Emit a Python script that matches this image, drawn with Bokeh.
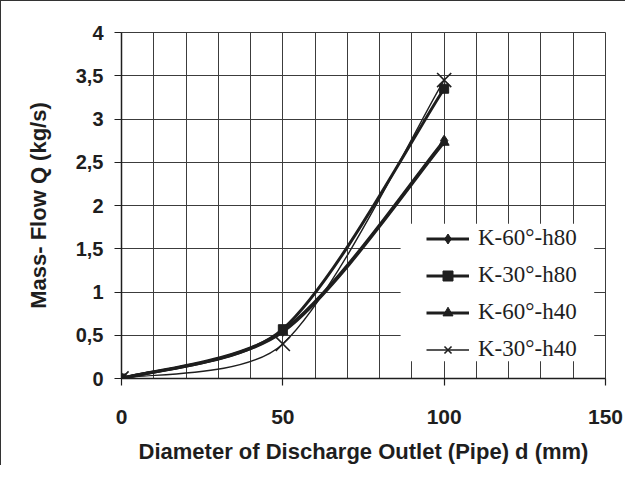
import math
from bokeh.plotting import figure
from bokeh.models import FixedTicker, Legend, LegendItem, BoxAnnotation, ColumnDataSource
from bokeh.embed import file_html
from bokeh.resources import INLINE

# ---- data ----
diameters = [0, 50, 100]
k60_h80 = [0, 0.55, 2.75]
k30_h80 = [0, 0.57, 3.35]
k60_h40 = [0, 0.54, 2.73]
k30_h40 = [0, 0.40, 3.45]
series_names = ["K-60°-h80", "K-30°-h80", "K-60°-h40", "K-30°-h40"]
x_ticks = [0, 50, 100, 150]
x_tick_labels = ["0", "50", "100", "150"]
y_ticks = [0, 0.5, 1, 1.5, 2, 2.5, 3, 3.5, 4]
y_tick_labels = ["0", "0,5", "1", "1,5", "2", "2,5", "3", "3,5", "4"]
x_grid = list(range(0, 151, 10))

INK = "#1e1e1e"
GRID = "#3c3c3c"

FRAME_W, FRAME_H = 484, 346
SX, SY = FRAME_W / 150.0, FRAME_H / 4.0   # px per data unit (for curve shape only)


def smooth_segments(xs, ys):
    """Bezier control points of a smoothed line through the data
    (Catmull-Rom tangents, shortened where neighbouring chords are unequal)."""
    n = len(xs)
    P = [(x * SX, y * SY) for x, y in zip(xs, ys)]

    def dist(a, b):
        return math.hypot(a[0] - b[0], a[1] - b[1])

    d = dict(x0=[], y0=[], x1=[], y1=[], cx0=[], cy0=[], cx1=[], cy1=[])
    for i in range(n - 1):
        p0, p1 = P[max(i - 1, 0)], P[i]
        p2, p3 = P[i + 1], P[min(i + 2, n - 1)]
        d01, d12, d23 = dist(p0, p1), dist(p1, p2), dist(p2, p3)
        k1 = min(1 / 6, d12 / (d01 + d12) / 3)
        k2 = min(1 / 6, d12 / (d12 + d23) / 3)
        c1 = (p1[0] + (p2[0] - p0[0]) * k1, p1[1] + (p2[1] - p0[1]) * k1)
        c2 = (p2[0] - (p3[0] - p1[0]) * k2, p2[1] - (p3[1] - p1[1]) * k2)
        d["x0"].append(xs[i]); d["y0"].append(ys[i])
        d["x1"].append(xs[i + 1]); d["y1"].append(ys[i + 1])
        d["cx0"].append(c1[0] / SX); d["cy0"].append(c1[1] / SY)
        d["cx1"].append(c2[0] / SX); d["cy1"].append(c2[1] / SY)
    return ColumnDataSource(d)


p = figure(width=625, height=465, x_range=(0, 150), y_range=(0, 4),
           output_backend="svg", toolbar_location=None,
           min_border_left=120, min_border_right=21,
           min_border_top=31, min_border_bottom=88)
p.styles = {"border-top": "1px solid #333", "border-left": "1px solid #333"}
p.background_fill_color = "white"
p.border_fill_color = "white"
p.outline_line_color = GRID
p.outline_line_width = 1

p.xgrid.ticker = FixedTicker(ticks=x_grid)
p.ygrid.ticker = FixedTicker(ticks=y_ticks)
for g in (p.xgrid, p.ygrid):
    g.grid_line_color = GRID
    g.grid_line_width = 1

p.xaxis.ticker = FixedTicker(ticks=x_ticks)
p.yaxis.ticker = FixedTicker(ticks=y_ticks)
p.xaxis.major_label_overrides = {t: l for t, l in zip(x_ticks, x_tick_labels)}
p.yaxis.major_label_overrides = {t: l for t, l in zip(y_ticks, y_tick_labels)}

for ax in (p.xaxis, p.yaxis):
    ax.axis_line_color = INK
    ax.axis_line_width = 1.5
    ax.major_tick_line_color = INK
    ax.major_tick_line_width = 1.2
    ax.major_tick_out = 7
    ax.major_tick_in = 0
    ax.minor_tick_line_color = None
    ax.major_label_text_font = "Liberation Sans"
    ax.major_label_text_font_style = "bold"
    ax.major_label_text_color = INK
    ax.axis_label_text_font = "Liberation Sans"
    ax.axis_label_text_font_style = "bold"
    ax.axis_label_text_font_size = "22px"
    ax.axis_label_text_color = INK

p.xaxis.major_label_text_font_size = "21px"
p.yaxis.major_label_text_font_size = "20px"
p.xaxis.axis_label = "Diameter of Discharge Outlet (Pipe) d (mm)"
p.yaxis.axis_label = "Mass- Flow Q (kg/s)"
p.xaxis.major_label_standoff = 24
p.xaxis.axis_label_standoff = 12
p.yaxis.major_label_standoff = 11
p.yaxis.axis_label_standoff = 22

series = [
    (k60_h80, 3.0, "diamond", 11, 1),
    (k30_h80, 3.0, "square", 9, 1),
    (k60_h40, 3.0, "triangle", 10, 1),
    (k30_h40, 1.4, "x", 20, 1.6),
]

items = []
for (vals, lw, marker, size, mlw), name in zip(series, series_names):
    src = smooth_segments(diameters, vals)
    r_line = p.bezier(x0="x0", y0="y0", x1="x1", y1="y1", cx0="cx0", cy0="cy0",
                      cx1="cx1", cy1="cy1", source=src, line_color=INK, line_width=lw)
    r_mark = p.scatter(diameters, vals, marker=marker, size=size,
                       fill_color=INK, line_color=INK, line_width=mlw)
    items.append(LegendItem(label=name, renderers=[r_line, r_mark]))

# white legend panel covering the grid
p.add_layout(BoxAnnotation(left=86.5, right=146.5, bottom=0.2, top=1.79,
                           fill_color="white", fill_alpha=1.0, line_color=None))

legend = Legend(items=items, location=(305, 16))
legend.background_fill_alpha = 0
legend.border_line_color = None
legend.padding = 5
legend.margin = 0
legend.spacing = 11
legend.glyph_width = 43
legend.glyph_height = 25
legend.label_height = 25
legend.label_standoff = 9
legend.label_text_font = "Liberation Serif"
legend.label_text_font_size = "23px"
legend.label_text_color = INK
p.add_layout(legend, "center")

open("out.html", "w").write(file_html(p, INLINE))
